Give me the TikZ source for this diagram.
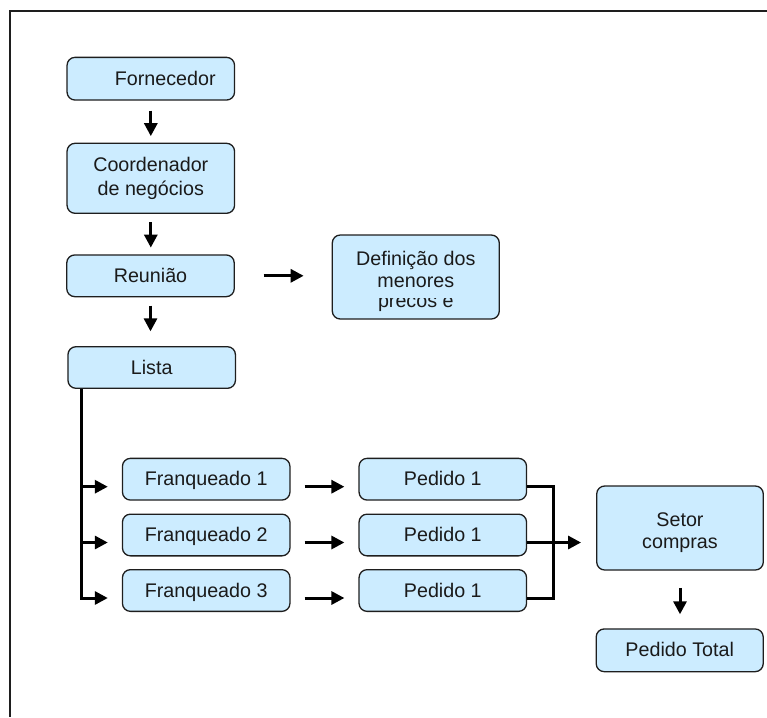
\documentclass[tikz,border=0pt]{standalone}
\usepackage{fontspec}
\setmainfont{Liberation Sans}
\usetikzlibrary{arrows.meta}
\definecolor{boxfill}{RGB}{204,236,255}
\definecolor{boxline}{RGB}{30,30,30}
\definecolor{ink}{RGB}{26,26,26}
\begin{document}
\begin{tikzpicture}[x=1pt,y=-1pt,
  box/.style={draw=boxline, fill=boxfill, line width=1.3pt, rounded corners=8pt,
    minimum width=167.5pt, minimum height=42pt, inner sep=0pt,
    font=\fontsize{19.7pt}{22pt}\selectfont, text=ink, text height=13.2pt, text depth=0pt},
  txt/.style={inner sep=0pt, font=\fontsize{19.7pt}{22pt}\selectfont, text=ink, anchor=base},
  arr/.style={line width=3pt, -{Triangle[length=13pt,width=13pt]}},
  conn/.style={line width=3pt}]
\useasboundingbox (0,0) rectangle (767,717);
% frame
\draw[line width=1.5pt, boxline] (767,11) -- (10,11) -- (10,717);
% upper chain
\node[box, minimum height=42.7pt] (forn) at (150.8,78.7) {\hspace*{29pt}Fornecedor};
\node[box, minimum height=70pt] (coord) at (150.8,178.3) {};
\node[txt] (coordA) at (150.8,171.7) {Coordenador};
\node[txt] (coordB) at (150.8,195) {de negócios};
\node[box, minimum height=41.7pt] (reun) at (150.5,275.8) {Reunião};
\node[box, minimum height=41.6pt] (lista) at (151.7,367.5) {Lista};
\node[box, minimum width=167pt, minimum height=84pt] (def) at (415.8,277) {};
\node[txt] (defA) at (415.8,265.3) {Definição dos};
\node[txt] (defB) at (415.8,287) {menores};
\begin{scope}
  \clip (330,298.7) rectangle (502,330);
  \node[txt] (defC) at (415.8,307) {precos e};
\end{scope}
% franqueados and pedidos
\node[box, minimum height=41.7pt] (f1) at (206.2,479.2) {Franqueado 1};
\node[box, minimum height=41.7pt] (f2) at (206.2,535) {Franqueado 2};
\node[box, minimum height=41.7pt] (f3) at (206.2,590.5) {Franqueado 3};
\node[box, minimum height=41.7pt] (p1) at (442.8,479.2) {Pedido 1};
\node[box, minimum height=41.7pt] (p2) at (442.8,535) {Pedido 1};
\node[box, minimum height=41.7pt] (p3) at (442.8,590.5) {Pedido 1};
\node[box, minimum width=166.6pt, minimum height=84pt] (setor) at (680,528) {};
\node[txt] (setorA) at (680,526.7) {Setor};
\node[txt] (setorB) at (680,548.3) {compras};
\node[box, minimum width=167pt, minimum height=42.7pt] (total) at (679.7,650.3) {Pedido Total};
% connectors upper
\draw[arr, shorten <=10pt, shorten >=6.5pt] (forn.south) -- (forn.south |- coord.north);
\draw[arr, shorten <=8.4pt, shorten >=6.7pt] (coord.south) -- (coord.south |- reun.north);
\draw[arr, shorten <=8.3pt, shorten >=14.7pt] (reun.south) -- (reun.south |- lista.north);
\draw[arr, shorten <=28.7pt, shorten >=28pt] (reun.east) -- (reun.east -| def.west);
% connectors lower
\coordinate (bus) at ([xshift=14pt]lista.south west);
\foreach \i in {1,2,3} {
  \coordinate (f\i in) at ([yshift=-7.5pt]f\i.west);
  \coordinate (f\i out) at ([yshift=-7.5pt]f\i.east);
  \coordinate (p\i in) at ([yshift=-7.5pt]p\i.west);
  \coordinate (p\i out) at ([yshift=-7.5pt]p\i.east);
}
\draw[arr, shorten >=14pt] (bus) |- (f3in);
\draw[arr, shorten >=14pt] (bus |- f1in) -- (f1in);
\draw[arr, shorten >=14pt] (bus |- f2in) -- (f2in);
\foreach \i in {1,2,3} {
  \draw[arr, shorten <=14pt, shorten >=14pt] (f\i out) -- (p\i in);
}
\coordinate (jx) at ([xshift=26.6pt]p1out);
\draw[conn] (p1out) -- (jx) |- (p3out);
\draw[arr, shorten >=15pt] (p2out) -- (p2out -| setor.west);
\draw[arr, shorten <=17.3pt, shorten >=14pt] (setor.south) -- (setor.south |- total.north);
\end{tikzpicture}
\end{document}
